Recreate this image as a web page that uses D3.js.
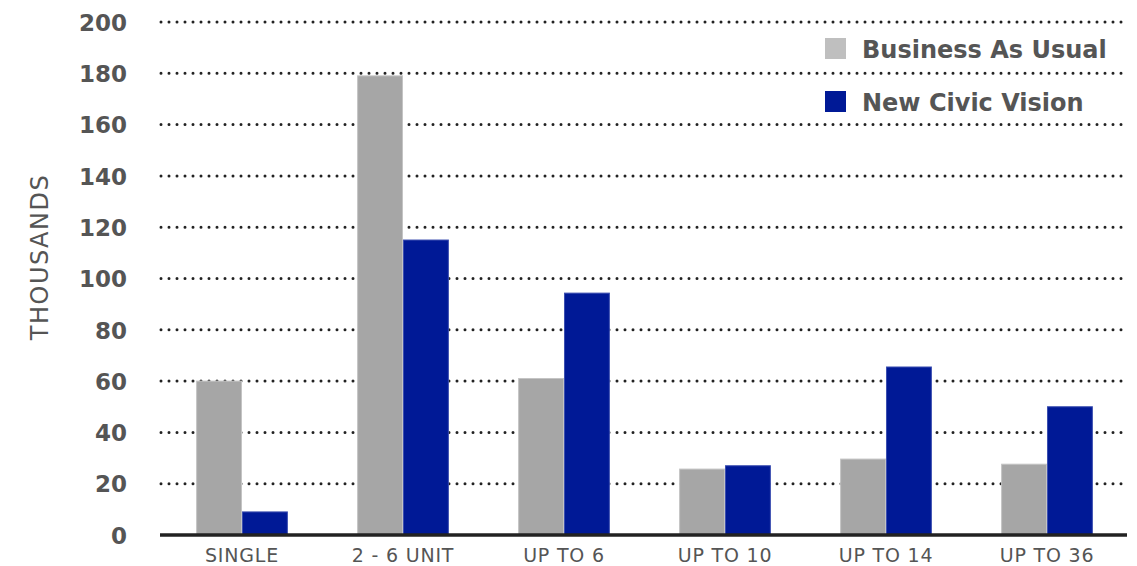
<!DOCTYPE html>
<html>
<head>
<meta charset="utf-8">
<script src="https://cdn.jsdelivr.net/npm/d3@7"></script>
<style>
  html, body { margin: 0; padding: 0; background: #fff; }
  svg { display: block; }
</style>
</head>
<body>
<svg id="chart" width="1137" height="566"></svg>
<script>
const categories = ["SINGLE", "2 - 6 UNIT", "UP TO 6", "UP TO 10", "UP TO 14", "UP TO 36"];
const businessAsUsual = [60, 179, 61, 25.7, 29.6, 27.6];
const newCivicVision = [9, 115, 94.3, 27, 65.5, 50];
const seriesNames = ["Business As Usual", "New Civic Vision"];
const yTicks = [0, 20, 40, 60, 80, 100, 120, 140, 160, 180, 200];
const yTitle = "THOUSANDS";

const margin = { left: 160 };
const plotRight = 1127;
const svg = d3.select("#chart");
const font = "'DejaVu Sans', 'Open Sans', sans-serif";

const x = d3.scaleBand().domain(categories).range([161.5, 1127.5]).paddingInner(0.43).paddingOuter(0.215);
const xs = d3.scaleBand().domain(seriesNames).range([0, x.bandwidth()]);
const y = d3.scaleLinear().domain([0, 200]).range([535, 22]);

// gridlines
const grid = svg.append("g");
grid.selectAll("line").data(yTicks.filter(d => d > 0)).join("line")
  .attr("x1", margin.left + 1).attr("x2", plotRight)
  .attr("y1", d => y(d)).attr("y2", d => y(d))
  .attr("stroke", "#222").attr("stroke-width", 3)
  .attr("stroke-linecap", "round").attr("stroke-dasharray", "0 8");

// y axis labels
const yAxis = d3.axisLeft(y).tickValues(yTicks).tickSize(0).tickPadding(0);
const yg = svg.append("g").attr("transform", "translate(127,0)").call(yAxis);
yg.select(".domain").remove();
yg.selectAll("text").attr("font-family", font).attr("font-size", 23).attr("font-weight", 700)
  .attr("fill", "#555").attr("dy", "0.36em");

// bars
const data = categories.map((c, i) => ({ c, vals: [businessAsUsual[i], newCivicVision[i]] }));
const fills = ["#a6a6a6", "#001996"];
const strokes = ["#c4c4c4", "#3c4fb0"];
const groups = svg.append("g").selectAll("g").data(data).join("g")
  .attr("transform", d => `translate(${x(d.c)},0)`);
groups.selectAll("rect").data(d => d.vals.map((v, j) => ({ v, j }))).join("rect")
  .attr("x", d => xs(seriesNames[d.j]) + 0.5)
  .attr("width", xs.bandwidth() - 1)
  .attr("y", d => y(d.v))
  .attr("height", d => y(0) - y(d.v))
  .attr("fill", d => fills[d.j])
  .attr("stroke", d => strokes[d.j])
  .attr("stroke-width", 1);

// x axis
const xAxis = d3.axisBottom(x).tickSize(0).tickPadding(0);
const xg = svg.append("g").attr("transform", `translate(0,${y(0)})`).call(xAxis);
xg.select(".domain").remove();
xg.selectAll("text").attr("font-family", font).attr("font-size", 19)
  .attr("letter-spacing", 0.8)
  .attr("fill", "#555").attr("y", 27).attr("dy", 0);
svg.append("line").attr("x1", margin.left).attr("x2", plotRight)
  .attr("y1", y(0)).attr("y2", y(0)).attr("stroke", "#222").attr("stroke-width", 3.5);

// y title
svg.append("text").attr("transform", `translate(48,257) rotate(-90)`)
  .attr("text-anchor", "middle").attr("font-family", font).attr("font-size", 24)
  .attr("letter-spacing", 1.5)
  .attr("fill", "#555").text(yTitle);

// legend
const legendColors = ["#bfbfbf", "#001996"];
const lg = svg.append("g").selectAll("g").data(seriesNames).join("g")
  .attr("transform", (d, i) => `translate(825,${38 + i * 53})`);
lg.append("rect").attr("width", 21).attr("height", 21).attr("fill", (d, i) => legendColors[i]);
lg.append("text").attr("x", 37).attr("y", 20).attr("font-family", font)
  .attr("font-size", 24).attr("font-weight", 700).attr("fill", "#555").text(d => d);
</script>
</body>
</html>
